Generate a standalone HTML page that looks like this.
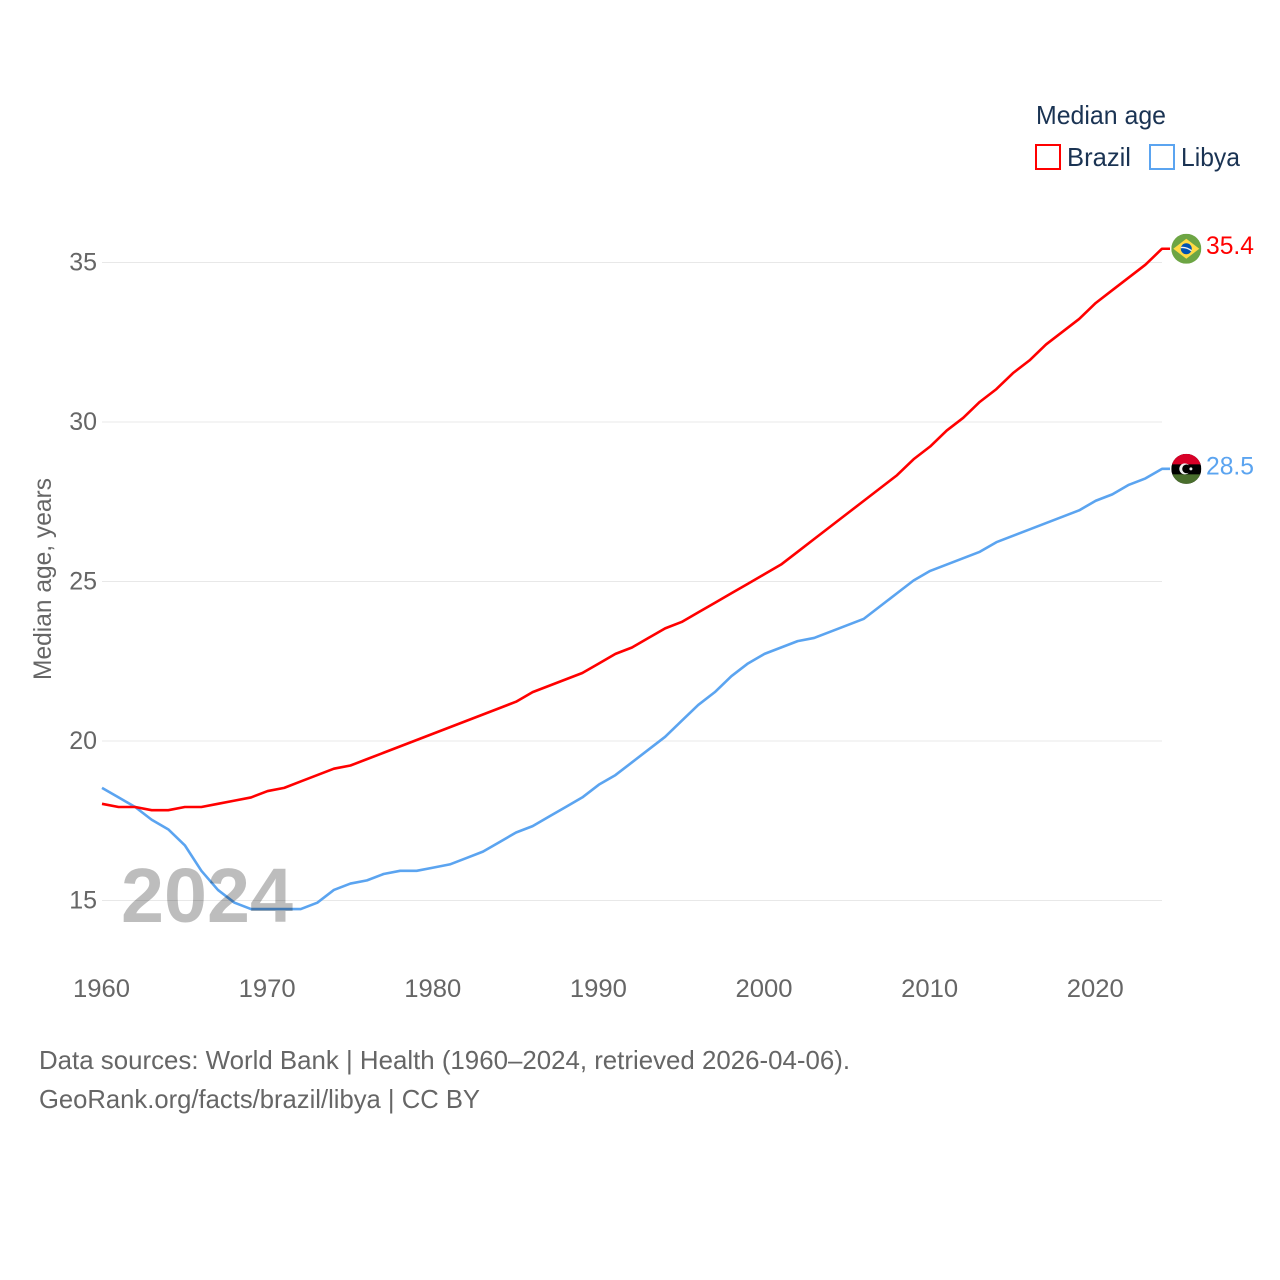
<!DOCTYPE html>
<html lang="en">
<head>
<meta charset="utf-8">
<title>Median age: Brazil and Libya</title>
<style>
html,body{margin:0;padding:0;background:#fff;}
svg{display:block;}
text{font-family:"Liberation Sans",sans-serif;}
</style>
</head>
<body>
<svg id="chart" xmlns="http://www.w3.org/2000/svg" width="1280" height="1280" viewBox="0 0 1280 1280">
  <defs>
    <clipPath id="brazil-clip"><circle cx="0" cy="0" r="15"/></clipPath>
    <clipPath id="libya-clip"><circle cx="0" cy="0" r="15"/></clipPath>
  </defs>
  <g id="grid"></g>
  <g id="y-ticks"></g>
  <g id="x-ticks"></g>
  <text transform="translate(51,680) rotate(-90)" font-size="25" fill="#666" textLength="202" lengthAdjust="spacingAndGlyphs">Median age, years</text>
  <g id="series"></g>
  <text x="121" y="922" font-size="77" fill="#000" fill-opacity="0.26" textLength="172" lengthAdjust="spacingAndGlyphs" style="font-weight:bold">2024</text>
  <g id="brazil-flag">
    <g clip-path="url(#brazil-clip)">
      <rect x="-15" y="-15" width="30" height="30" fill="#6da544"/>
      <polygon points="0,-10 13,0 0,10 -13,0" fill="#ffda44"/>
      <circle cx="0" cy="0" r="5.5" fill="#0052b4"/>
      <path d="M-5.4,-1.2 Q0,-2 5.2,2" stroke="#f0f0f0" stroke-width="1.4" fill="none"/>
    </g>
  </g>
  <g id="libya-flag">
    <g clip-path="url(#libya-clip)">
      <rect x="-15" y="-15" width="30" height="30" fill="#000"/>
      <rect x="-15" y="-15" width="30" height="10.5" fill="#d80027"/>
      <rect x="-15" y="5.5" width="30" height="9.5" fill="#496e2d"/>
      <circle cx="-1.5" cy="0" r="5.5" fill="#f0f0f0"/>
      <circle cx="0.3" cy="0" r="4.4" fill="#000"/>
      <circle cx="4.6" cy="0" r="1.5" fill="#f0f0f0"/>
    </g>
  </g>
  <text id="brazil-value" x="1206" font-size="25" fill="#ff0000" textLength="48" lengthAdjust="spacingAndGlyphs"></text>
  <text id="libya-value" x="1206" font-size="25" fill="#5ba4f0" textLength="48" lengthAdjust="spacingAndGlyphs"></text>
  <g>
    <text x="1036" y="124" font-size="26" fill="#1a3353" textLength="130" lengthAdjust="spacingAndGlyphs">Median age</text>
    <rect x="1036" y="145" width="24" height="24" fill="none" stroke="#ff0000" stroke-width="2"/>
    <text x="1067" y="166" font-size="26" fill="#1a3353" textLength="64" lengthAdjust="spacingAndGlyphs">Brazil</text>
    <rect x="1150" y="145" width="24" height="24" fill="none" stroke="#5ba4f0" stroke-width="2"/>
    <text x="1181" y="166" font-size="26" fill="#1a3353" textLength="59" lengthAdjust="spacingAndGlyphs">Libya</text>
  </g>
  <text x="39" y="1069" font-size="26" fill="#666" textLength="811" lengthAdjust="spacingAndGlyphs">Data sources: World Bank | Health (1960–2024, retrieved 2026-04-06).</text>
  <text x="39" y="1108" font-size="26" fill="#666" textLength="441" lengthAdjust="spacingAndGlyphs">GeoRank.org/facts/brazil/libya | CC BY</text>
</svg>
<script>
const startYear = 1960;
const xTickLabels = [1960, 1970, 1980, 1990, 2000, 2010, 2020];
const yTickLabels = [15, 20, 25, 30, 35];
const brazilValues = [18.0,17.9,17.9,17.8,17.8,17.9,17.9,18.0,18.1,18.2,18.4,18.5,18.7,18.9,19.1,19.2,19.4,19.6,19.8,20.0,20.2,20.4,20.6,20.8,21.0,21.2,21.5,21.7,21.9,22.1,22.4,22.7,22.9,23.2,23.5,23.7,24.0,24.3,24.6,24.9,25.2,25.5,25.9,26.3,26.7,27.1,27.5,27.9,28.3,28.8,29.2,29.7,30.1,30.6,31.0,31.5,31.9,32.4,32.8,33.2,33.7,34.1,34.5,34.9,35.4];
const libyaValues = [18.5,18.2,17.9,17.5,17.2,16.7,15.9,15.3,14.9,14.7,14.7,14.7,14.7,14.9,15.3,15.5,15.6,15.8,15.9,15.9,16.0,16.1,16.3,16.5,16.8,17.1,17.3,17.6,17.9,18.2,18.6,18.9,19.3,19.7,20.1,20.6,21.1,21.5,22.0,22.4,22.7,22.9,23.1,23.2,23.4,23.6,23.8,24.2,24.6,25.0,25.3,25.5,25.7,25.9,26.2,26.4,26.6,26.8,27.0,27.2,27.5,27.7,28.0,28.2,28.5];

const NS = 'http://www.w3.org/2000/svg';
const xScale = function (year) { return 101.5 + (year - 1960) * (1060 / 64); };
const yScale = function (v) { return 900.5 - (v - 15) * (638 / 20); };
const seriesY = function (v) { return yScale(v) - 1; };

const gridGroup = document.getElementById('grid');
const yTickGroup = document.getElementById('y-ticks');
const xTickGroup = document.getElementById('x-ticks');
const seriesGroup = document.getElementById('series');

yTickLabels.forEach(function (v) {
  const line = document.createElementNS(NS, 'line');
  
  
  line.setAttribute('x1', 102);
  line.setAttribute('x2', 1162);
  line.setAttribute('y1', yScale(v));
  line.setAttribute('y2', yScale(v));
  line.setAttribute('stroke', '#e8e8e8');
  line.setAttribute('stroke-width', 1);
  gridGroup.appendChild(line);

  const label = document.createElementNS(NS, 'text');
  
  
  label.setAttribute('x', 97);
  label.setAttribute('y', yScale(v) + 8);
  label.setAttribute('text-anchor', 'end');
  label.setAttribute('font-size', 25);
  label.setAttribute('fill', '#666');
  label.textContent = v;
  yTickGroup.appendChild(label);
});

xTickLabels.forEach(function (year) {
  const label = document.createElementNS(NS, 'text');
  
  
  label.setAttribute('x', xScale(year));
  label.setAttribute('y', 997);
  label.setAttribute('text-anchor', 'middle');
  label.setAttribute('font-size', 25);
  label.setAttribute('fill', '#666');
  label.setAttribute('textLength', 57);
  label.setAttribute('lengthAdjust', 'spacingAndGlyphs');
  label.textContent = year;
  xTickGroup.appendChild(label);
});

function pathFor(values) {
  const pts = values.map(function (v, i) {
    return (xScale(startYear + i) + 0.5).toFixed(2) + ',' + seriesY(v).toFixed(2);
  });
  pts.push('1170,' + seriesY(values[values.length - 1]).toFixed(2));
  return 'M' + pts.join('L');
}

const libyaLine = document.createElementNS(NS, 'path');


libyaLine.setAttribute('d', pathFor(libyaValues));
libyaLine.setAttribute('fill', 'none');
libyaLine.setAttribute('stroke', '#5ba4f0');
libyaLine.setAttribute('stroke-width', 2.6);
libyaLine.setAttribute('stroke-linejoin', 'round');
seriesGroup.appendChild(libyaLine);

const brazilLine = document.createElementNS(NS, 'path');


brazilLine.setAttribute('d', pathFor(brazilValues));
brazilLine.setAttribute('fill', 'none');
brazilLine.setAttribute('stroke', '#ff0000');
brazilLine.setAttribute('stroke-width', 2.6);
brazilLine.setAttribute('stroke-linejoin', 'round');
seriesGroup.appendChild(brazilLine);

function placeEnd(values, flagId, labelId) {
  const last = values[values.length - 1];
  const y = seriesY(last);
  document.getElementById(flagId).setAttribute('transform', 'translate(1186.3,' + y.toFixed(2) + ')');
  const label = document.getElementById(labelId);
  label.setAttribute('y', y + 5.5);
  label.textContent = last.toFixed(1);
}
placeEnd(brazilValues, 'brazil-flag', 'brazil-value');
placeEnd(libyaValues, 'libya-flag', 'libya-value');
</script>
</body>
</html>
